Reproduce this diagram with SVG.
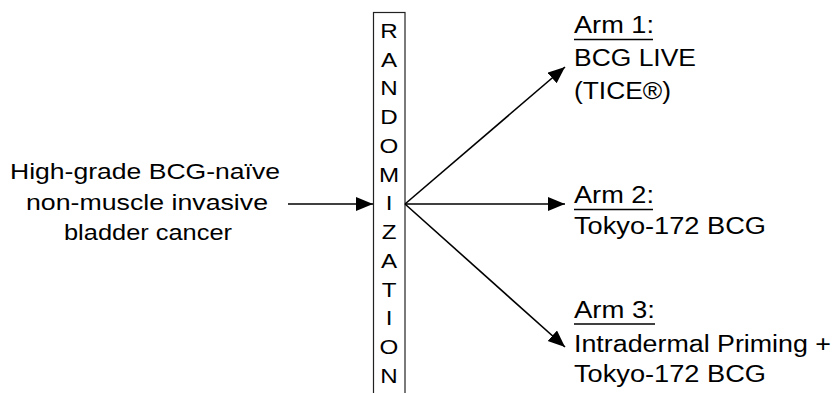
<svg xmlns="http://www.w3.org/2000/svg" width="835" height="393" viewBox="0 0 835 393">
  <style>
    .t { font-family: "Liberation Sans", Arial, sans-serif; fill: #000; }
    .lbl { font-size: 22.5px; }
    .arm { font-size: 23px; }
    .v { font-size: 21px; text-anchor: middle; }
    .edge { stroke: #000; stroke-width: 1.6; fill: none; marker-end: url(#head); }
    .ul { stroke: #000; stroke-width: 1.5; }
  </style>
  <defs>
    <marker id="head" markerUnits="userSpaceOnUse" markerWidth="18" markerHeight="15" refX="17" refY="7" orient="auto">
      <path d="M0,0 L17,7 L0,14 Z" fill="#000"/>
    </marker>
  </defs>
  <rect width="835" height="393" fill="#fff"/>

  <!-- patient population -->
  <g id="population" class="t lbl" text-anchor="middle">
    <text x="145" y="179" textLength="270" lengthAdjust="spacingAndGlyphs">High-grade BCG-naïve</text>
    <text x="147" y="210" textLength="242" lengthAdjust="spacingAndGlyphs">non-muscle invasive</text>
    <text x="148" y="240" textLength="168" lengthAdjust="spacingAndGlyphs">bladder cancer</text>
  </g>

  <!-- vertical randomization bar -->
  <g id="randomization">
    <rect x="373.5" y="12.5" width="31.5" height="400" fill="none" stroke="#222" stroke-width="1.2"/>
    <g class="t v" transform="translate(389,0) scale(1.15,1)">
      <text x="0" y="38">R</text>
      <text x="0" y="66.75">A</text>
      <text x="0" y="95.5">N</text>
      <text x="0" y="124.25">D</text>
      <text x="0" y="153">O</text>
      <text x="0" y="181.75">M</text>
      <text x="0" y="210.5">I</text>
      <text x="0" y="239.25">Z</text>
      <text x="0" y="268">A</text>
      <text x="0" y="296.75">T</text>
      <text x="0" y="325.5">I</text>
      <text x="0" y="354.25">O</text>
      <text x="0" y="383">N</text>
    </g>
  </g>

  <!-- treatment arms -->
  <g id="arm1" class="t arm">
    <text x="574" y="33" textLength="80" lengthAdjust="spacingAndGlyphs">Arm 1:</text>
    <line class="ul" x1="574" y1="39.5" x2="653" y2="39.5"/>
    <text x="574" y="66" textLength="122" lengthAdjust="spacingAndGlyphs">BCG LIVE</text>
    <text x="574" y="98.5" textLength="97" lengthAdjust="spacingAndGlyphs">(TICE®)</text>
  </g>
  <g id="arm2" class="t arm">
    <text x="574" y="203" textLength="80" lengthAdjust="spacingAndGlyphs">Arm 2:</text>
    <line class="ul" x1="574" y1="209.5" x2="653" y2="209.5"/>
    <text x="574" y="233.5" textLength="192" lengthAdjust="spacingAndGlyphs">Tokyo-172 BCG</text>
  </g>
  <g id="arm3" class="t arm">
    <text x="574" y="318" textLength="81" lengthAdjust="spacingAndGlyphs">Arm 3:</text>
    <line class="ul" x1="574" y1="324" x2="655" y2="324"/>
    <text x="574" y="352" textLength="257" lengthAdjust="spacingAndGlyphs">Intradermal Priming +</text>
    <text x="574" y="382" textLength="192" lengthAdjust="spacingAndGlyphs">Tokyo-172 BCG</text>
  </g>

  <!-- connectors -->
  <g id="connectors">
    <line class="edge" x1="288" y1="204" x2="373" y2="204"/>
    <line class="edge" x1="405" y1="204" x2="565" y2="67"/>
    <line class="edge" x1="405" y1="204" x2="565" y2="204"/>
    <line class="edge" x1="405" y1="204" x2="565" y2="347"/>
  </g>
</svg>
